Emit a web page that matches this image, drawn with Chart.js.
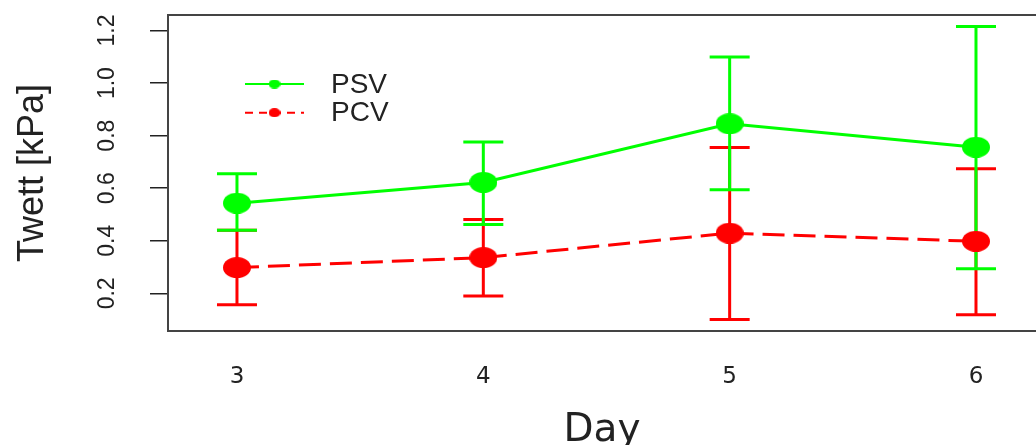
<!DOCTYPE html>
<html>
<head>
<meta charset="utf-8">
<script src="https://cdn.jsdelivr.net/npm/chart.js@4"></script>
<style>
  html, body { margin: 0; padding: 0; background: #fff; overflow: hidden; }
  #wrap { width: 1036px; height: 445px; overflow: hidden; }
</style>
</head>
<body>
<div id="wrap"><canvas id="twett" width="1036" height="470"></canvas></div>
<script>
// Twett by day: PSV vs PCV, mean with error bars

const days    = [3, 4, 5, 6];
const psv     = [0.543, 0.622, 0.845, 0.756];
const psvLow  = [0.440, 0.462, 0.594, 0.294];
const psvHigh = [0.655, 0.776, 1.099, 1.215];
const pcv     = [0.298, 0.336, 0.429, 0.398];
const pcvLow  = [0.157, 0.190, 0.100, 0.119];
const pcvHigh = [0.440, 0.481, 0.755, 0.674];
const yTicks  = [0.2, 0.4, 0.6, 0.8, 1.0, 1.2];

const GREEN = '#00FF00';
const RED   = '#FF0000';
const INK   = '#222222';

// filled ellipse used as point marker (the original plot is stretched sideways)
function makeDot(color, w, h) {
  const c = document.createElement('canvas');
  c.width = w; c.height = h;
  const g = c.getContext('2d');
  g.fillStyle = color;
  g.beginPath();
  g.ellipse(w / 2, h / 2, w / 2, h / 2, 0, 0, Math.PI * 2);
  g.fill();
  return c;
}

// keep the axes from pushing the plot area around
function fixedSize(prop, size) {
  return s => {
    s[prop] = size;
    s.paddingTop = s.paddingBottom = s.paddingLeft = s.paddingRight = 0;
  };
}

// ── Error bars (red under green, both under the points) ──
const errorBars = {
  id: 'errorBars',
  beforeDatasetsDraw(chart) {
    const { ctx, scales: { x, y } } = chart;
    [[pcvLow, pcvHigh, RED], [psvLow, psvHigh, GREEN]].forEach(([lo, hi, color]) => {
      ctx.save();
      ctx.strokeStyle = color;
      ctx.lineWidth = 3;
      days.forEach((d, i) => {
        const px = x.getPixelForValue(d);
        const y0 = y.getPixelForValue(lo[i]);
        const y1 = y.getPixelForValue(hi[i]);
        ctx.beginPath();
        ctx.moveTo(px, y0); ctx.lineTo(px, y1);
        ctx.moveTo(px - 20, y0); ctx.lineTo(px + 20, y0);
        ctx.moveTo(px - 20, y1); ctx.lineTo(px + 20, y1);
        ctx.stroke();
      });
      ctx.restore();
    });
  },
};

// ── Plot frame (its right side falls outside the cropped picture) ──
const boxFrame = {
  id: 'boxFrame',
  afterDatasetsDraw(chart) {
    const { ctx, chartArea: a } = chart;
    ctx.save();
    ctx.strokeStyle = '#444';
    ctx.lineWidth = 2;
    ctx.beginPath();
    ctx.moveTo(a.right + 20, a.top);
    ctx.lineTo(a.left, a.top);
    ctx.lineTo(a.left, a.bottom);
    ctx.lineTo(a.right + 20, a.bottom);
    ctx.stroke();
    ctx.restore();
  },
};

// ── R-style legend: line with dot, label to the right ──
const rLegend = {
  id: 'rLegend',
  afterDraw(chart) {
    const { ctx, chartArea: a } = chart;
    const x0 = a.left + 77, x1 = a.left + 136;
    chart.data.datasets.forEach((ds, i) => {
      const yy = a.top + 69 + i * 28.7;
      ctx.save();
      ctx.strokeStyle = ds.borderColor;
      ctx.lineWidth = 2;
      ctx.setLineDash(ds.borderDash ? [8, 6] : []);
      ctx.beginPath();
      ctx.moveTo(x0, yy); ctx.lineTo(x1, yy);
      ctx.stroke();
      ctx.drawImage(ds.legendDot, (x0 + x1) / 2 - 6, yy - 4.5);
      ctx.fillStyle = INK;
      ctx.font = '28px "Liberation Sans"';
      ctx.textBaseline = 'middle';
      ctx.fillText(ds.label, a.left + 163, yy + 1);
      ctx.restore();
    });
  },
};

new Chart(document.getElementById('twett'), {
  type: 'line',
  data: {
    datasets: [
      {
        label: 'PSV',
        data: days.map((d, i) => ({ x: d, y: psv[i] })),
        borderColor: GREEN, borderWidth: 3, tension: 0,
        pointStyle: makeDot(GREEN, 28, 21), pointRadius: 11,
        legendDot: makeDot(GREEN, 12, 9),
      },
      {
        label: 'PCV',
        data: days.map((d, i) => ({ x: d, y: pcv[i] })),
        borderColor: RED, borderWidth: 3, tension: 0,
        borderDash: [22, 9],
        pointStyle: makeDot(RED, 28, 21), pointRadius: 11,
        legendDot: makeDot(RED, 12, 9),
      },
    ],
  },
  options: {
    responsive: false, animation: false, events: [],
    layout: { autoPadding: false, padding: { top: 15, right: 0, left: 0, bottom: 0 } },
    plugins: { legend: { display: false }, tooltip: { enabled: false } },
    scales: {
      x: {
        type: 'linear', min: 2.720, max: 6.2436,
        afterBuildTicks: s => { s.ticks = days.map(v => ({ value: v })); },
        afterFit: fixedSize('height', 139),
        grid: { display: false },
        border: { display: false },
        ticks: { padding: 24, color: INK, font: { family: 'DejaVu Sans', size: 23 } },
        title: {
          display: true, text: 'Day', color: INK,
          font: { family: 'DejaVu Sans', size: 39 },
          padding: { top: 0, bottom: 16 },
        },
      },
      y: {
        min: 0.0567, max: 1.259,
        afterBuildTicks: s => { s.ticks = yTicks.map(v => ({ value: v })); },
        afterFit: fixedSize('width', 168),
        grid: { drawOnChartArea: false, drawTicks: true, tickLength: 18, color: INK, lineWidth: 1.5 },
        border: { display: false },
        ticks: {
          minRotation: 90, maxRotation: 90, crossAlign: 'center', padding: 26,
          color: INK, font: { family: 'Liberation Sans', size: 23 },
          callback: v => v.toFixed(1),
        },
        title: {
          display: true, text: 'Twett [kPa]', color: INK,
          font: { family: 'Liberation Sans', size: 36 },
          padding: { top: 11, bottom: 0 },
        },
      },
    },
  },
  plugins: [errorBars, boxFrame, rLegend],
});
</script>
</body>
</html>
